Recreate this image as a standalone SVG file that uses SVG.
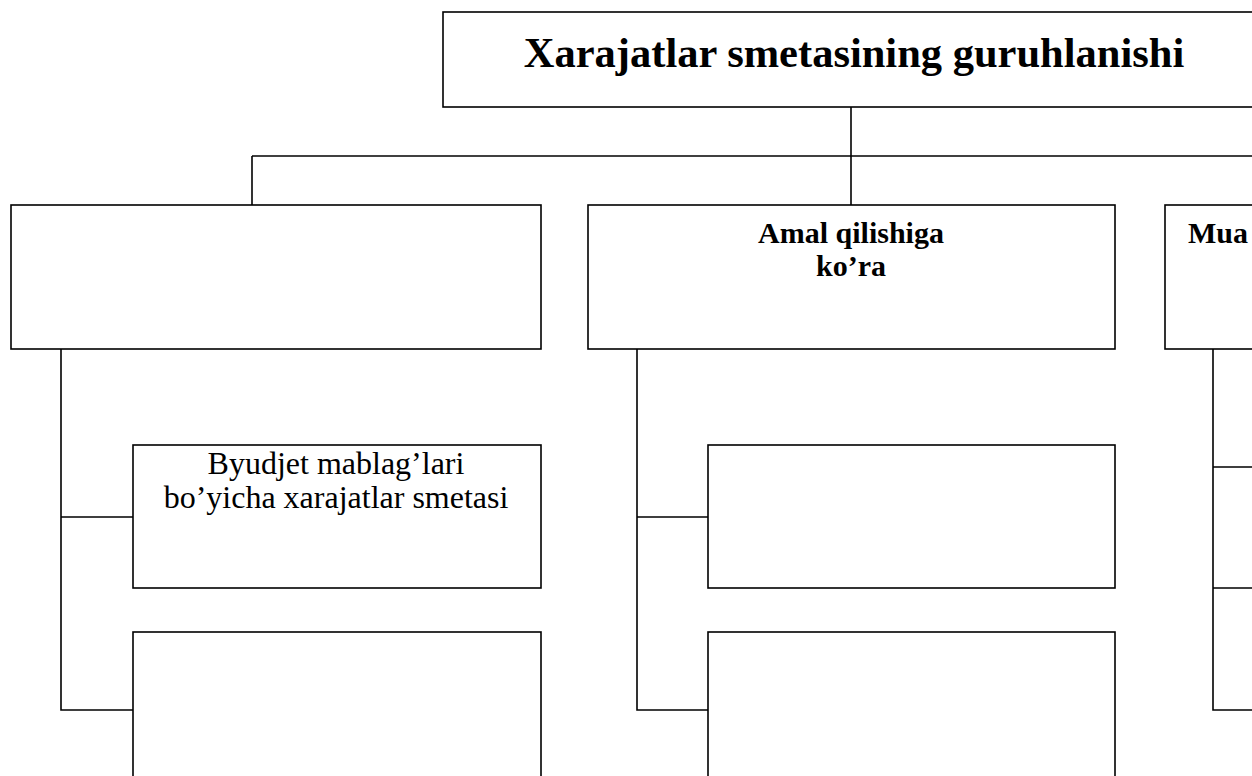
<svg xmlns="http://www.w3.org/2000/svg" width="1252" height="776" viewBox="0 0 1252 776">
<style>
.box{fill:#fff;stroke:#000;stroke-width:1.6}
.ln{stroke:#000;stroke-width:1.6;fill:none}
.t{font-family:"Liberation Serif","Times New Roman",serif;fill:#000;text-anchor:middle}
.b{font-weight:bold}
</style>
<rect width="1252" height="776" fill="#fff"/>
<g id="connectors">
<line class="ln" x1="851" y1="107" x2="851" y2="205"/>
<line class="ln" x1="252" y1="156" x2="1260" y2="156"/>
<line class="ln" x1="252" y1="156" x2="252" y2="205"/>
<path class="ln" d="M61 349 V710 H133 M61 517 H133"/>
<path class="ln" d="M637 349 V710 H708 M637 517 H708"/>
<path class="ln" d="M1213 349 V710 H1260 M1213 467 H1260 M1213 588 H1260"/>
</g>
<g id="root">
<rect class="box" x="443" y="12" width="830" height="95"/>
<text class="t b" x="854" y="67" font-size="42.5">Xarajatlar smetasining guruhlanishi</text>
</g>
<g id="cat1">
<rect class="box" x="11" y="205" width="530" height="144"/>
</g>
<g id="cat2">
<rect class="box" x="588" y="205" width="527" height="144"/>
<text class="t b" x="851" y="243" font-size="30">Amal qilishiga</text>
<text class="t b" x="851" y="276" font-size="30">ko’ra</text>
</g>
<g id="cat3">
<rect class="box" x="1165" y="205" width="120" height="144"/>
<text class="t b" x="1188" y="243" font-size="30" style="text-anchor:start">Mua</text>
</g>
<g id="c1a">
<rect class="box" x="133" y="445" width="408" height="143"/>
<text class="t" x="336" y="474" font-size="32">Byudjet mablag’lari</text>
<text class="t" x="336" y="508" font-size="32">bo’yicha xarajatlar smetasi</text>
</g>
<g id="c1b">
<rect class="box" x="133" y="632" width="408" height="160"/>
</g>
<g id="c2a">
<rect class="box" x="708" y="445" width="407" height="143"/>
</g>
<g id="c2b">
<rect class="box" x="708" y="632" width="407" height="160"/>
</g>
</svg>
